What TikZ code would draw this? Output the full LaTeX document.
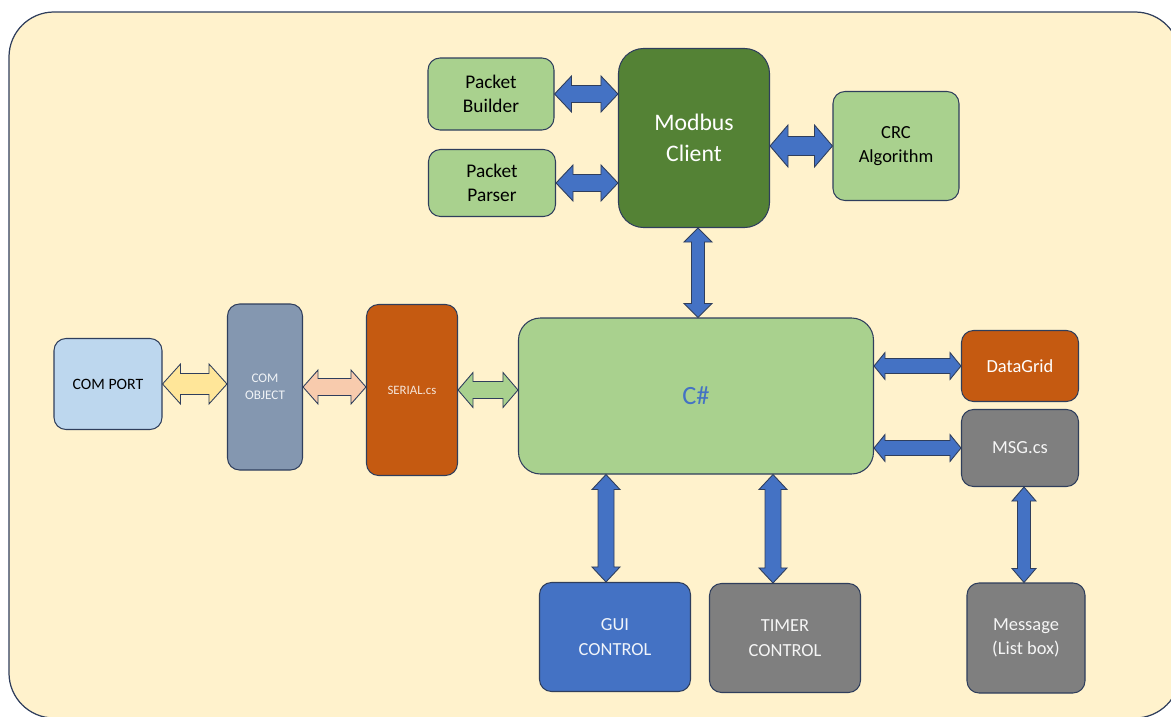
\documentclass[tikz,border=0pt]{standalone}
\usepackage{fontspec}
\setmainfont{Carlito}
\usetikzlibrary{calc}
\definecolor{bgyellow}{RGB}{255,242,204}
\definecolor{edge}{RGB}{47,62,92}
\definecolor{lightgreen}{RGB}{169,209,142}
\definecolor{darkgreen}{RGB}{84,130,53}
\definecolor{lightblue}{RGB}{189,215,238}
\definecolor{slate}{RGB}{132,151,176}
\definecolor{rust}{RGB}{197,90,17}
\definecolor{blueaccent}{RGB}{68,114,196}
\definecolor{midgray}{RGB}{127,127,127}
\definecolor{sand}{RGB}{255,230,153}
\definecolor{peach}{RGB}{248,203,173}

\newcommand{\pxu}{0.02cm}
\newcommand{\fsz}[2]{\fontsize{#1}{#2}\selectfont}
% block double arrows: style, first anchor, second anchor, head half, shaft half, head length
\newcommand{\linkH}[6]{%
  \filldraw[#1] let \p1=(#2), \p2=(#3) in
    (\x1,\y1) -- (\x1+#6*\pxu,\y1+#4*\pxu) -- (\x1+#6*\pxu,\y1+#5*\pxu)
    -- (\x2-#6*\pxu,\y1+#5*\pxu) -- (\x2-#6*\pxu,\y1+#4*\pxu) -- (\x2,\y1)
    -- (\x2-#6*\pxu,\y1-#4*\pxu) -- (\x2-#6*\pxu,\y1-#5*\pxu)
    -- (\x1+#6*\pxu,\y1-#5*\pxu) -- (\x1+#6*\pxu,\y1-#4*\pxu) -- cycle;}
\newcommand{\linkV}[6]{%
  \filldraw[#1] let \p1=(#2), \p2=(#3) in
    (\x1,\y1) -- (\x1+#4*\pxu,\y1-#6*\pxu) -- (\x1+#5*\pxu,\y1-#6*\pxu)
    -- (\x1+#5*\pxu,\y2+#6*\pxu) -- (\x1+#4*\pxu,\y2+#6*\pxu) -- (\x1,\y2)
    -- (\x1-#4*\pxu,\y2+#6*\pxu) -- (\x1-#5*\pxu,\y2+#6*\pxu)
    -- (\x1-#5*\pxu,\y1-#6*\pxu) -- (\x1-#4*\pxu,\y1-#6*\pxu) -- cycle;}

\begin{document}
\begin{tikzpicture}[x=0.02cm, y=-0.02cm,
    box/.style={draw=edge, line width=0.6pt, rounded corners=0.24cm, align=center, inner sep=0pt},
    arrow/.style={draw=edge, line width=0.5pt, line join=miter}]
  \useasboundingbox (0,0) rectangle (1171,717);
  % Frame
  \draw[draw=edge, line width=0.7pt, fill=bgyellow, rounded corners=0.9cm] (9,12) rectangle (1180,718);

  % Modbus side
  \node[box, fill=lightgreen, minimum width=126*\pxu, minimum height=72*\pxu, font=\fsz{11}{14}] (pbuild) at (491,94) {Packet\\Builder};
  \node[box, fill=lightgreen, minimum width=127*\pxu, minimum height=67*\pxu, font=\fsz{11}{14}] (pparse) at (492,183) {Packet\\Parser};
  \node[box, fill=darkgreen, text=white, rounded corners=0.5cm, minimum width=151*\pxu, minimum height=179*\pxu, font=\fsz{13.5}{17.5}] (modbus) at (694,138) {Modbus\\Client};
  \node[box, fill=lightgreen, minimum width=126*\pxu, minimum height=109*\pxu, font=\fsz{10.5}{14}] (crc) at (896,146) {CRC\\Algorithm};

  % Serial chain
  \node[box, fill=lightblue, minimum width=108*\pxu, minimum height=91*\pxu, font=\fsz{9}{11}] (comport) at (108,384) {COM PORT};
  \node[box, fill=slate, text=white!88!slate, minimum width=75*\pxu, minimum height=166*\pxu, font=\fsz{7.5}{9.5}] (comobj) at (265,387) {COM\\OBJECT};
  \node[box, fill=rust, text=white!85!rust, minimum width=91*\pxu, minimum height=171*\pxu, font=\fsz{7.3}{9}] (serial) at (412,390) {SERIAL.cs};
  \node[box, fill=lightgreen, text=blueaccent, rounded corners=0.44cm, minimum width=355*\pxu, minimum height=156*\pxu, font=\fsz{15}{18}] (csharp) at (696,396) {C\#};

  % Right side
  \node[box, fill=rust, text=white, minimum width=117*\pxu, minimum height=71*\pxu, font=\fsz{10.5}{13}] (dgrid) at (1020,366) {DataGrid};
  \node[box, fill=midgray, text=white!92!midgray, minimum width=117*\pxu, minimum height=77*\pxu, font=\fsz{10.5}{13}] (msg) at (1020,448) {MSG.cs};
  \node[box, fill=midgray, text=white!92!midgray, minimum width=118*\pxu, minimum height=110*\pxu, font=\fsz{10.5}{14}] (msgbox) at (1026,638) {Message\\(List box)};

  % Bottom
  \node[box, fill=blueaccent, text=white!92!blueaccent, minimum width=151*\pxu, minimum height=109*\pxu, font=\fsz{10.5}{14}] (gui) at (615,637) {GUI\\CONTROL};
  \node[box, fill=midgray, text=white!92!midgray, minimum width=151*\pxu, minimum height=109*\pxu, font=\fsz{10.5}{14}] (timer) at (785,638) {TIMER\\CONTROL};

  % Arrow ends off centre
  \coordinate (mcfoot) at ($(modbus.south)+(4,0)$);
  \coordinate (msgfoot) at ($(msg.south)+(4,0)$);
  \coordinate (guitop) at ($(gui.north)+(-9,0)$);
  \coordinate (timertop) at ($(timer.north)+(-12,0)$);

  % Arrows
  \linkH{arrow, fill=blueaccent}{pbuild.east}{modbus.west |- pbuild.east}{18}{8.5}{17}
  \linkH{arrow, fill=blueaccent}{pparse.east}{modbus.west |- pparse.east}{18}{8.5}{17}
  \linkH{arrow, fill=blueaccent}{modbus.east |- crc.west}{crc.west}{21}{9.5}{18}
  \linkV{arrow, fill=blueaccent}{mcfoot}{csharp.north -| mcfoot}{14}{6.5}{14}

  \linkH{arrow, fill=sand}{comport.east}{comobj.west |- comport.east}{20}{10.5}{18}
  \linkH{arrow, fill=peach}{comobj.east}{serial.west |- comobj.east}{17}{8.5}{15}
  \linkH{arrow, fill=lightgreen}{serial.east}{csharp.west |- serial.east}{17.5}{8.5}{15}

  \linkH{arrow, fill=blueaccent}{csharp.east |- dgrid.west}{dgrid.west}{13.5}{7.5}{11}
  \linkH{arrow, fill=blueaccent}{csharp.east |- msg.west}{msg.west}{13.5}{7.5}{11}
  \linkV{arrow, fill=blueaccent}{msgfoot}{msgbox.north -| msgfoot}{12}{6.5}{14}

  \linkV{arrow, fill=blueaccent}{csharp.south -| guitop}{guitop}{14}{8}{15}
  \linkV{arrow, fill=blueaccent}{csharp.south -| timertop}{timertop}{14}{8}{15}
\end{tikzpicture}
\end{document}
